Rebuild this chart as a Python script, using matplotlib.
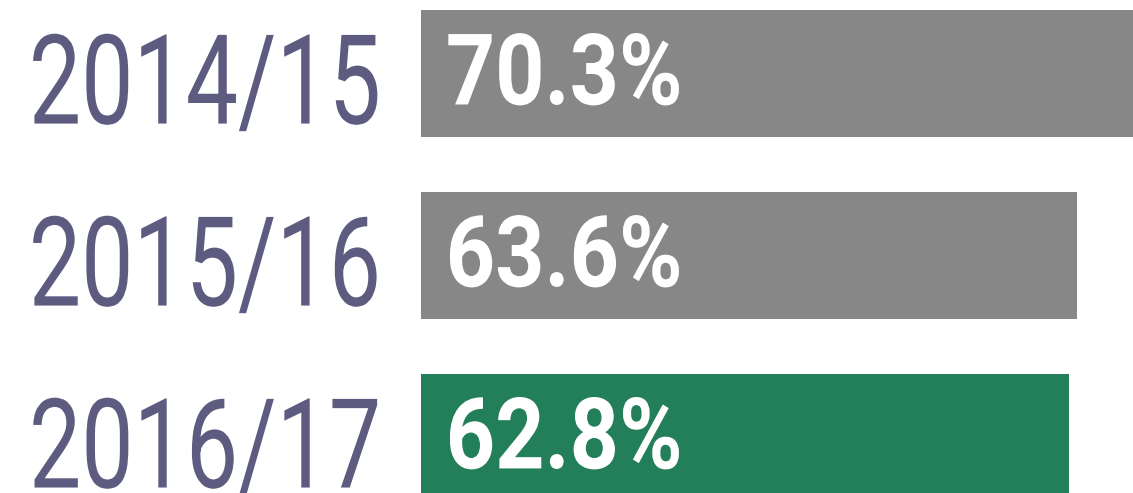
import matplotlib
matplotlib.use("Agg")
import matplotlib.pyplot as plt
import matplotlib.transforms as mtransforms
from matplotlib.patheffects import AbstractPathEffect

# data
years = ["2014/15", "2015/16", "2016/17"]
values = [70.3, 63.6, 62.8]
colors = ["#878787", "#878787", "#237f5a"]


# no condensed font installed: draw the text taller instead (about the baseline),
# the Text keeps its real width so layout stays right
class Stretch(AbstractPathEffect):
    def __init__(self, sy):
        super().__init__()
        self.sy = sy

    def draw_path(self, renderer, gc, tpath, affine, rgbFace=None):
        aff = mtransforms.Affine2D().scale(1, self.sy) + affine
        renderer.draw_path(gc, tpath, aff, rgbFace)


fig = plt.figure(figsize=(11.33, 4.93), dpi=100)
left = 421 / 1133
ax = fig.add_axes([left, 0, 1 - left, 1])

ypos = list(range(len(years)))
ax.barh(ypos, values, height=0.698, color=colors)

# bar starts at left edge, image cuts off the first bar
ax.set_xlim(0, 69.0)
ax.set_ylim(2.305, -0.404)
ax.axis("off")

# year labels
trans = mtransforms.blended_transform_factory(fig.transFigure, ax.transData)
for y, lab in zip(ypos, years):
    ax.text(381 / 1133, y + 0.275, lab, transform=trans, ha="right",
            va="baseline", fontsize=67, color="#5d5c80", family="Roboto",
            path_effects=[Stretch(1.34)])

# values inside bars
for y, v in zip(ypos, values):
    ax.text(2.4, y + 0.17, "%.1f%%" % v, ha="left", va="baseline",
            fontsize=62, fontweight="bold", color="white", family="Roboto",
            path_effects=[Stretch(1.15)])

fig.savefig("out.png", dpi=100)
